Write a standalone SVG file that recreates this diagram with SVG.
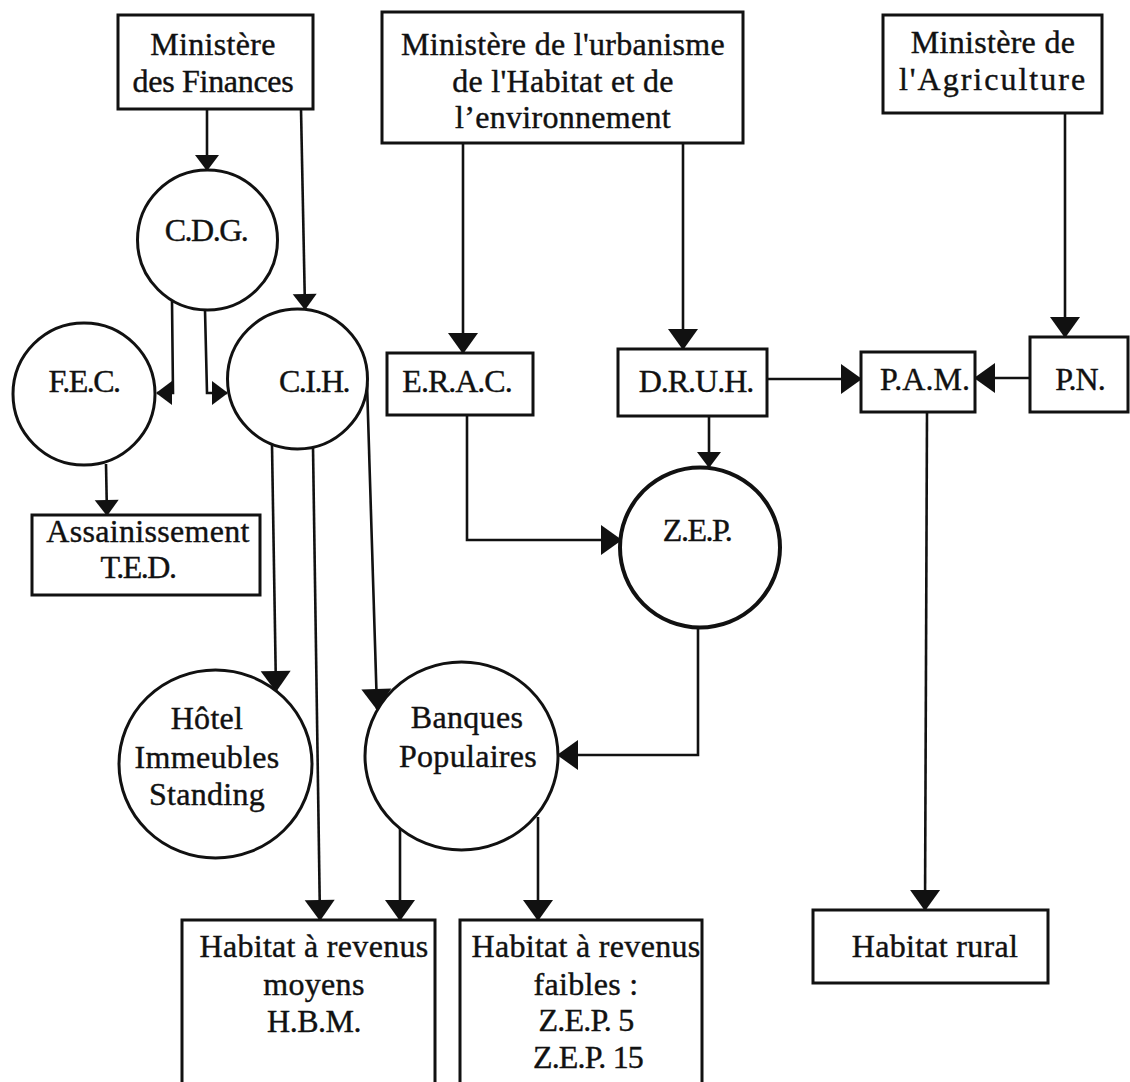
<svg xmlns="http://www.w3.org/2000/svg" width="1130" height="1082" viewBox="0 0 1130 1082">
<style>
  .box { fill: #fff; stroke: #111; stroke-width: 3; }
  .circ { fill: #fff; stroke: #111; stroke-width: 3; }
  .con { fill: none; stroke: #111; stroke-width: 2.6; }
  .big { marker-end: url(#ahL); }
  .sm { marker-end: url(#ahS); }
  text { font-family: "Liberation Serif", "Times New Roman", serif; font-size: 32px; fill: #111; stroke: #111; stroke-width: 0.4; text-anchor: middle; letter-spacing: 0.3px; }
</style>
<defs>
  <marker id="ahL" markerUnits="userSpaceOnUse" orient="auto" markerWidth="1" markerHeight="1" refX="0" refY="0" style="overflow:visible">
    <path d="M1,0 L-20,-15 L-20,15 Z" fill="#111"/>
  </marker>
  <marker id="ahS" markerUnits="userSpaceOnUse" orient="auto" markerWidth="1" markerHeight="1" refX="0" refY="0" style="overflow:visible">
    <path d="M1,0 L-15,-12 L-15,12 Z" fill="#111"/>
  </marker>
</defs>

<g id="connectors">
  <path class="con sm" d="M207,109 L207,170"/>
  <path class="con sm" d="M301,109 L305,309"/>
  <path class="con sm" d="M172,301 L173,393 L157,393"/>
  <path class="con sm" d="M205,310 L207,393 L227,393"/>
  <path class="con sm" d="M106,464 L107,515"/>
  <path class="con big" d="M463,143 L463,353"/>
  <path class="con big" d="M683,143 L683,349"/>
  <path class="con sm" d="M709,416 L709,467"/>
  <path class="con big" d="M467,415 L467,540 L621,540"/>
  <path class="con big" d="M767,379 L861,379"/>
  <path class="con big" d="M1030,378 L975,378"/>
  <path class="con big" d="M1065,113 L1065,337"/>
  <path class="con big" d="M272,445 L276,691"/>
  <path class="con big" d="M367,383 L377,709"/>
  <path class="con big" d="M313,447 L320,920"/>
  <path class="con big" d="M698,628 L698,755 L558,755"/>
  <path class="con big" d="M400,827 L400,920"/>
  <path class="con big" d="M538,817 L538,920"/>
  <path class="con big" d="M927,412 L925,910"/>
</g>

<g id="min-finances">
  <rect class="box" x="118" y="15" width="195" height="94"/>
  <text x="213" y="55">Ministère</text>
  <text x="213" y="92" style="letter-spacing:-0.3px">des Finances</text>
</g>
<g id="min-urbanisme">
  <rect class="box" x="382" y="12" width="361" height="131"/>
  <text x="563" y="55">Ministère de l'urbanisme</text>
  <text x="563" y="92">de l'Habitat et de</text>
  <text x="563" y="128">l’environnement</text>
</g>
<g id="min-agriculture">
  <rect class="box" x="883" y="15" width="219" height="98"/>
  <text x="993" y="53">Ministère de</text>
  <text x="993" y="90" style="letter-spacing:2px">l'Agriculture</text>
</g>
<g id="cdg">
  <circle class="circ" cx="207.5" cy="240" r="70"/>
  <text x="206" y="241" style="letter-spacing:-1.5px">C.D.G.</text>
</g>
<g id="fec">
  <circle class="circ" cx="84" cy="394" r="71"/>
  <text x="84" y="392" style="letter-spacing:-1.5px">F.E.C.</text>
</g>
<g id="cih">
  <circle class="circ" cx="297.5" cy="379" r="70"/>
  <text x="314" y="392" style="letter-spacing:-1.5px">C.I.H.</text>
</g>
<g id="assainissement">
  <rect class="box" x="32" y="515" width="228" height="80"/>
  <text x="148" y="542">Assainissement</text>
  <text x="138" y="578" style="letter-spacing:-1.5px">T.E.D.</text>
</g>
<g id="erac">
  <rect class="box" x="387" y="353" width="146" height="62"/>
  <text x="457" y="392" style="letter-spacing:-1px">E.R.A.C.</text>
</g>
<g id="druh">
  <rect class="box" x="618" y="349" width="149" height="67"/>
  <text x="696" y="392" style="letter-spacing:-1px">D.R.U.H.</text>
</g>
<g id="pam">
  <rect class="box" x="861" y="352" width="114" height="60"/>
  <text x="925" y="390" style="letter-spacing:0px">P.A.M.</text>
</g>
<g id="pn">
  <rect class="box" x="1030" y="337" width="98" height="75"/>
  <text x="1080" y="390" style="letter-spacing:-1px">P.N.</text>
</g>
<g id="zep">
  <circle cx="700" cy="547.5" r="80" fill="#fff" stroke="#111" stroke-width="4"/>
  <text x="697" y="541" style="letter-spacing:-1.5px">Z.E.P.</text>
</g>
<g id="hotel">
  <ellipse class="circ" cx="215.5" cy="764" rx="96.5" ry="94"/>
  <text x="207" y="729">Hôtel</text>
  <text x="207" y="768">Immeubles</text>
  <text x="207" y="805">Standing</text>
</g>
<g id="banques">
  <ellipse class="circ" cx="461.5" cy="756" rx="96.5" ry="94"/>
  <text x="467" y="728">Banques</text>
  <text x="468" y="767">Populaires</text>
</g>
<g id="habitat-moyens">
  <rect class="box" x="182" y="920" width="253" height="175"/>
  <text x="314" y="957">Habitat à revenus</text>
  <text x="314" y="995">moyens</text>
  <text x="314" y="1032" style="letter-spacing:-0.5px">H.B.M.</text>
</g>
<g id="habitat-faibles">
  <rect class="box" x="460" y="920" width="242" height="175"/>
  <text x="586" y="957">Habitat à revenus</text>
  <text x="586" y="995">faibles :</text>
  <text x="586" y="1031" style="letter-spacing:-0.8px">Z.E.P. 5</text>
  <text x="588" y="1068" style="letter-spacing:-0.8px">Z.E.P. 15</text>
</g>
<g id="habitat-rural">
  <rect class="box" x="813" y="910" width="235" height="73"/>
  <text x="935" y="957">Habitat rural</text>
</g>
</svg>
